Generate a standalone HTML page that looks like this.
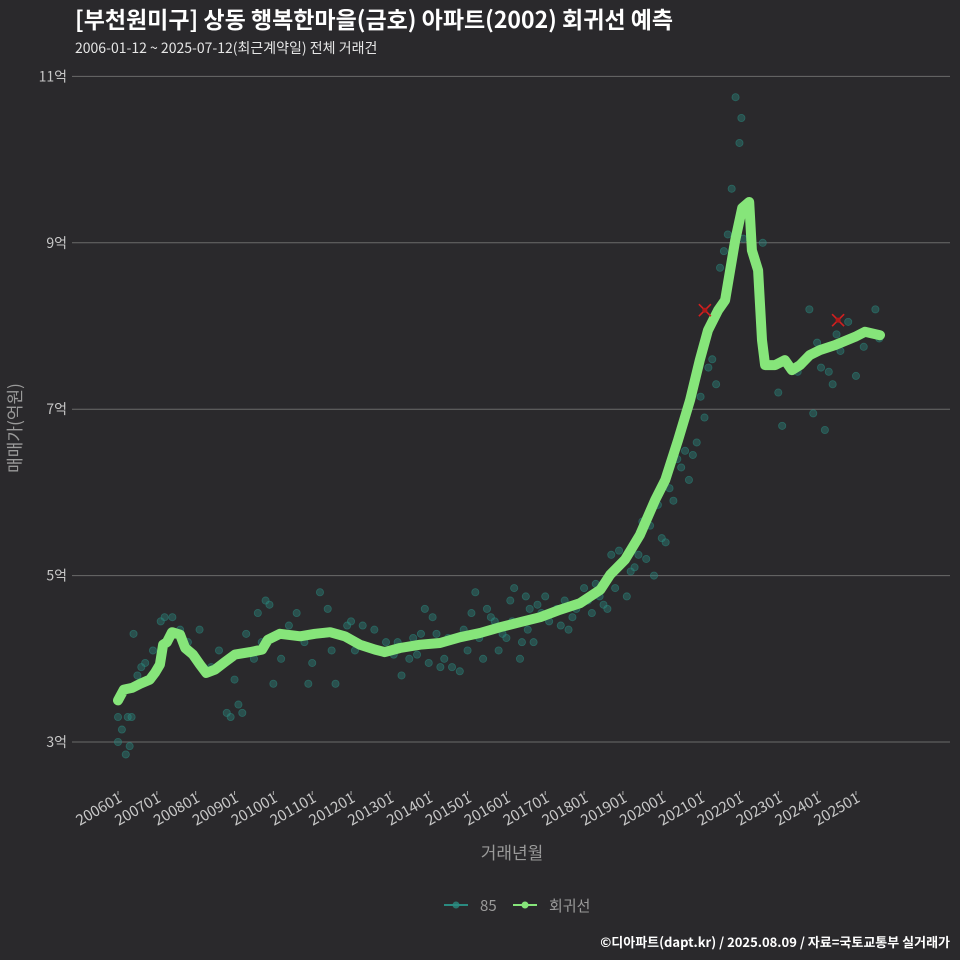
<!DOCTYPE html>
<html><head><meta charset="utf-8"><style>
body{margin:0;background:#2a292c;}
svg{display:block;font-family:"Noto Sans CJK KR","Liberation Sans",sans-serif;}
</style></head><body>
<svg width="960" height="960" viewBox="0 0 960 960">
<rect width="960" height="960" fill="#2a292c"/>
<text x="75" y="28" font-size="23" font-weight="bold" fill="#ffffff">[부천원미구] 상동 행복한마을(금호) 아파트(2002) 회귀선 예측</text>
<text x="75" y="53" font-size="14" fill="#e6e6e6">2006-01-12 ~ 2025-07-12(최근계약일) 전체 거래건</text>
<g id="grid"></g>
<g id="xaxis"></g>
<g id="scatter"></g>
<g id="line"></g>
<g id="marks"></g>
<text x="512" y="859" font-size="17" fill="#9a9a9a" text-anchor="middle">거래년월</text>
<text transform="translate(21,428) rotate(-90)" font-size="17" fill="#9a9a9a" text-anchor="middle">매매가(억원)</text>
<g>
<g>
<line x1="444" y1="905" x2="468" y2="905" stroke="#2a8a80" stroke-width="2"/>
<circle cx="456" cy="905" r="3.5" fill="#2a8a80" opacity="0.8"/>
<text x="480" y="911" font-size="15" fill="#9a9a9a">85</text></g>
<g>
<line x1="513" y1="905" x2="537" y2="905" stroke="#86e57a" stroke-width="2"/>
<circle cx="525" cy="905" r="3.5" fill="#86e57a"/>
<text x="549" y="911" font-size="15" fill="#9a9a9a">회귀선</text></g>
</g>
<text x="950" y="947" font-size="13" font-weight="bold" fill="#ffffff" text-anchor="end">©디아파트(dapt.kr) / 2025.08.09 / 자료=국토교통부 실거래가</text>
</svg>
<script>
const yTicks=[3,5,7,9,11];
const yTickLabels=["3억","5억","7억","9억","11억"];
const xTickYears=[2006,2007,2008,2009,2010,2011,2012,2013,2014,2015,2016,2017,2018,2019,2020,2021,2022,2023,2024,2025];
const xTickLabels=["200601","200701","200801","200901","201001","201101","201201","201301","201401","201501","201601","201701","201801","201901","202001","202101","202201","202301","202401","202501"];
const lineDates=[2006.00,2006.15,2006.36,2006.57,2006.82,2006.95,2007.08,2007.16,2007.26,2007.39,2007.60,2007.73,2007.93,2008.11,2008.27,2008.50,2008.75,2009.01,2009.40,2009.71,2009.86,2010.17,2010.69,2011.07,2011.46,2011.84,2012.23,2012.62,2012.87,2013.26,2013.78,2014.29,2014.81,2015.32,2015.84,2016.35,2016.87,2017.38,2017.90,2018.42,2018.67,2019.05,2019.44,2019.83,2020.09,2020.42,2020.73,2020.98,2021.19,2021.45,2021.63,2021.89,2022.07,2022.25,2022.32,2022.48,2022.58,2022.66,2022.79,2022.92,2023.17,2023.35,2023.56,2023.81,2024.07,2024.46,2024.98,2025.23,2025.62];
const lineValues=[3.50,3.63,3.65,3.70,3.75,3.83,3.93,4.17,4.20,4.32,4.29,4.13,4.05,3.93,3.83,3.87,3.96,4.05,4.08,4.11,4.23,4.30,4.27,4.30,4.32,4.27,4.17,4.11,4.08,4.13,4.17,4.19,4.26,4.31,4.38,4.44,4.50,4.59,4.67,4.83,5.01,5.19,5.49,5.91,6.15,6.63,7.11,7.59,7.95,8.19,8.31,9.03,9.42,9.49,8.91,8.67,7.83,7.53,7.53,7.53,7.59,7.47,7.53,7.65,7.71,7.77,7.87,7.93,7.89];
const dotDates=[2006.0,2006.0,2006.1,2006.2,2006.3,2006.25,2006.35,2006.4,2006.5,2006.6,2006.7,2006.9,2007.1,2007.2,2007.4,2007.6,2007.8,2008.0,2008.2,2008.4,2008.6,2008.8,2008.9,2009.0,2009.1,2009.2,2009.3,2009.5,2009.6,2009.8,2009.9,2010.0,2010.2,2010.4,2010.6,2010.9,2011.0,2011.2,2011.4,2011.5,2011.6,2011.9,2012.1,2012.3,2012.6,2012.9,2013.1,2013.3,2013.5,2013.6,2013.8,2013.9,2014.0,2014.1,2014.3,2014.5,2014.6,2014.8,2015.0,2015.1,2015.2,2015.4,2015.5,2015.7,2015.8,2016.0,2016.1,2016.2,2016.35,2016.5,2016.6,2016.7,2016.9,2017.0,2017.2,2017.4,2017.6,2017.8,2018.0,2018.1,2018.3,2018.5,2018.7,2018.9,2019.1,2019.2,2019.4,2019.5,2019.7,2019.9,2020.1,2020.2,2020.4,2020.6,2020.7,2020.8,2021.0,2021.1,2021.2,2021.3,2021.5,2021.6,2021.7,2021.8,2021.9,2022.0,2022.05,2022.1,2022.3,2022.6,2023.0,2023.1,2023.2,2023.5,2023.8,2023.9,2024.0,2024.1,2024.2,2024.3,2024.4,2024.5,2024.6,2024.8,2025.0,2025.2,2025.4,2025.5,2025.6,2013.2,2013.7,2014.2,2014.4,2014.9,2015.3,2015.6,2015.9,2016.15,2016.4,2016.55,2016.8,2017.1,2017.3,2017.5,2017.7,2018.2,2018.4,2018.6,2018.8,2019.3,2019.6,2019.8,2020.0,2020.3,2020.5,2020.9,2021.4,2010.8,2011.3,2012.0,2012.4,2007.0,2008.1,2009.7];
const dotValues=[3.3,3.0,3.15,2.85,2.95,3.3,3.3,4.3,3.8,3.9,3.95,4.1,4.45,4.5,4.5,4.35,4.2,4.0,3.9,3.9,4.1,3.35,3.3,3.75,3.45,3.35,4.3,4.0,4.55,4.7,4.65,3.7,4.0,4.4,4.55,3.7,3.95,4.8,4.6,4.1,3.7,4.4,4.1,4.4,4.35,4.2,4.05,3.8,4.0,4.25,4.3,4.6,3.95,4.5,3.9,4.25,3.9,3.85,4.1,4.55,4.8,4.0,4.6,4.45,4.1,4.25,4.7,4.85,4.0,4.75,4.6,4.2,4.55,4.75,4.55,4.4,4.35,4.6,4.85,4.7,4.9,4.65,5.25,5.3,4.75,5.05,5.25,5.65,5.6,5.85,5.4,6.05,6.4,6.5,6.15,6.45,7.15,6.9,7.5,7.6,8.7,8.9,9.1,9.65,10.75,10.2,10.5,9.05,9.2,9.0,7.2,6.8,7.55,7.45,8.2,6.95,7.8,7.5,6.75,7.45,7.3,7.9,7.7,8.05,7.4,7.75,7.9,8.2,7.85,4.2,4.05,4.3,4.0,4.35,4.25,4.5,4.3,4.45,4.2,4.35,4.65,4.45,4.6,4.7,4.5,4.55,4.75,4.6,4.85,5.1,5.2,5.0,5.45,5.9,6.3,6.6,7.3,4.2,4.3,4.45,4.15,3.85,4.35,4.2];
const markDates=[2021.11,2024.54];
const markValues=[8.19,8.07];

const NS="http://www.w3.org/2000/svg";
function X(t){return 118+(t-2006)*38.84;}
function Y(v){return 742-(v-3)*83.2;}
function mk(tag,attrs,parent){const e=document.createElementNS(NS,tag);for(const k in attrs)e.setAttribute(k,attrs[k]);parent.appendChild(e);return e;}
const grid=document.getElementById('grid');
yTicks.forEach((v,i)=>{
  const l=mk('line',{x1:72,x2:950,y1:Y(v),y2:Y(v),stroke:'#6a6a6a','stroke-width':1},grid);
  
  
  const t=mk('text',{x:67,y:Y(v)+5,'font-size':14,fill:'#c8c8c8','text-anchor':'end'},grid);
  t.textContent=yTickLabels[i];
  
  
});
const xa=document.getElementById('xaxis');
xTickYears.forEach((yr,i)=>{
  const x=X(yr);
  const tk=mk('line',{x1:x,x2:x,y1:791,y2:795,stroke:'#aaa','stroke-width':1},xa);
  
  
  const t=mk('text',{transform:`translate(${x+5},${801}) rotate(-30)`,'font-size':15,fill:'#c8c8c8','text-anchor':'end'},xa);
  t.textContent=xTickLabels[i];
  
  
});
const sc=document.getElementById('scatter');
dotDates.forEach((d,i)=>{
  const c=mk('circle',{cx:X(d),cy:Y(dotValues[i]),r:3.6,fill:'#2a8a80','fill-opacity':0.4,stroke:'#2a8a80','stroke-opacity':0.55,'stroke-width':0.8},sc);
  
  
});
const lg=document.getElementById('line');
const p=mk('path',{d:lineDates.map((d,i)=>(i?'L':'M')+X(d).toFixed(1)+','+Y(lineValues[i]).toFixed(1)).join(''),fill:'none',stroke:'#86e57a','stroke-width':10,'stroke-linecap':'round','stroke-linejoin':'round'},lg);


const mg=document.getElementById('marks');
markDates.forEach((d,i)=>{
  const x=X(d),y=Y(markValues[i]);
  const g=mk('g',{},mg);
  
  
  mk('line',{x1:x-6,y1:y-6,x2:x+6,y2:y+6,stroke:'#d42020','stroke-width':1.6},g);
  mk('line',{x1:x-6,y1:y+6,x2:x+6,y2:y-6,stroke:'#d42020','stroke-width':1.6},g);
  mk('circle',{cx:x,cy:y,r:2.5,fill:'#b01818'},g);
});
</script>
</body></html>
